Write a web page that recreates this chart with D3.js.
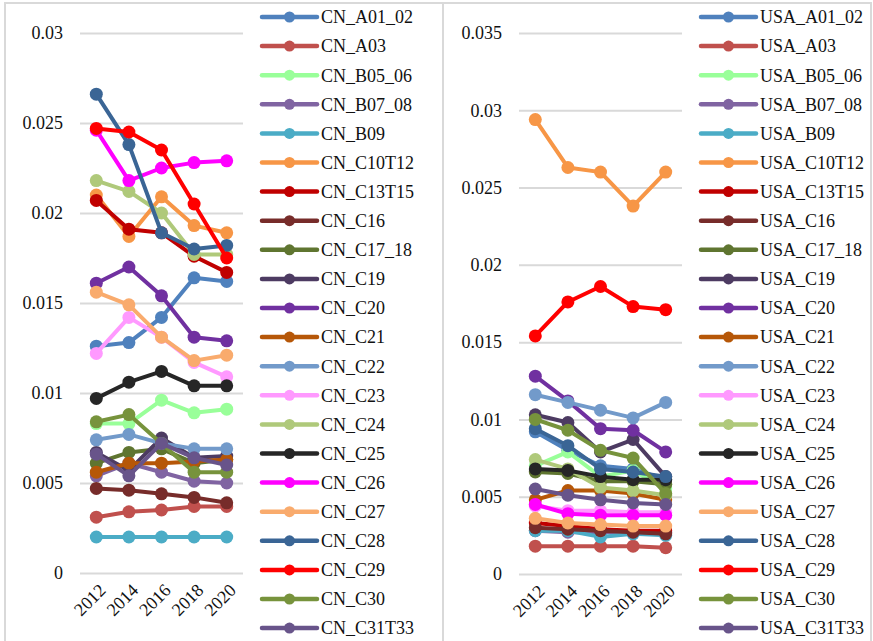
<!DOCTYPE html>
<html>
<head>
<meta charset="utf-8">
<script src="https://cdn.jsdelivr.net/npm/d3@7"></script>
<style>
  body { margin: 0; background: #fff; }
</style>
</head>
<body>
<script>
var years = ["2012", "2014", "2016", "2018", "2020"];

var sectors = ["A01_02", "A03", "B05_06", "B07_08", "B09", "C10T12", "C13T15", "C16",
  "C17_18", "C19", "C20", "C21", "C22", "C23", "C24", "C25", "C26", "C27", "C28",
  "C29", "C30", "C31T33"];

var colors = ["#4f81bd", "#c0504d", "#99ff99", "#8064a2", "#4bacc6", "#f79646", "#c00000",
  "#772c2a", "#5f7530", "#4d3b62", "#7030a0", "#b65708", "#729aca", "#ff99ff", "#afc97a",
  "#262626", "#ff00ff", "#f9ab6d", "#3a6595", "#ff0000", "#77933c", "#68548a"];

// one row per sector, same order as sectors
var cnValues = [
  [0.0126, 0.0128, 0.0142, 0.0164, 0.0162],
  [0.0031, 0.0034, 0.0035, 0.0037, 0.0037],
  [0.0083, 0.0083, 0.0096, 0.0089, 0.0091],
  [0.0054, 0.0061, 0.0056, 0.0051, 0.0050],
  [0.0020, 0.0020, 0.0020, 0.0020, 0.0020],
  [0.0210, 0.0187, 0.0209, 0.0193, 0.0189],
  [0.0207, 0.0191, 0.0189, 0.0176, 0.0167],
  [0.0047, 0.0046, 0.0044, 0.0042, 0.0039],
  [0.0061, 0.0067, 0.0069, 0.0061, 0.0063],
  [0.0067, 0.0057, 0.0075, 0.0064, 0.0065],
  [0.0161, 0.0170, 0.0154, 0.0131, 0.0129],
  [0.0056, 0.0061, 0.0061, 0.0062, 0.0063],
  [0.0074, 0.0077, 0.0072, 0.0069, 0.0069],
  [0.0122, 0.0142, 0.0131, 0.0117, 0.0109],
  [0.0218, 0.0212, 0.0200, 0.0177, 0.0177],
  [0.0097, 0.0106, 0.0112, 0.0104, 0.0104],
  [0.0246, 0.0218, 0.0225, 0.0228, 0.0229],
  [0.0156, 0.0149, 0.0131, 0.0118, 0.0121],
  [0.0266, 0.0238, 0.0189, 0.0180, 0.0182],
  [0.0247, 0.0245, 0.0235, 0.0205, 0.0175],
  [0.0084, 0.0088, 0.0072, 0.0056, 0.0056],
  [0.0066, 0.0054, 0.0072, 0.0064, 0.0060]
];

var usaValues = [
  [0.0092, 0.0080, 0.0070, 0.0068, 0.0061],
  [0.0018, 0.0018, 0.0018, 0.0018, 0.0017],
  [0.0070, 0.0079, 0.0063, 0.0067, 0.0055],
  [0.0028, 0.0027, 0.0027, 0.0027, 0.0027],
  [0.0028, 0.0028, 0.0024, 0.0026, 0.0025],
  [0.0294, 0.0263, 0.0260, 0.0238, 0.0260],
  [0.0033, 0.0031, 0.0029, 0.0028, 0.0028],
  [0.0030, 0.0029, 0.0028, 0.0027, 0.0026],
  [0.0066, 0.0065, 0.0060, 0.0060, 0.0058],
  [0.0103, 0.0098, 0.0079, 0.0087, 0.0063],
  [0.0128, 0.0112, 0.0094, 0.0093, 0.0079],
  [0.0048, 0.0054, 0.0054, 0.0052, 0.0048],
  [0.0116, 0.0111, 0.0106, 0.0101, 0.0111],
  [0.0044, 0.0041, 0.0041, 0.0040, 0.0040],
  [0.0074, 0.0068, 0.0056, 0.0054, 0.0051],
  [0.0068, 0.0067, 0.0063, 0.0061, 0.0061],
  [0.0045, 0.0039, 0.0038, 0.0038, 0.0038],
  [0.0036, 0.0033, 0.0032, 0.0031, 0.0031],
  [0.0094, 0.0083, 0.0068, 0.0066, 0.0063],
  [0.0154, 0.0176, 0.0186, 0.0173, 0.0171],
  [0.0100, 0.0093, 0.0080, 0.0075, 0.0052],
  [0.0055, 0.0051, 0.0048, 0.0046, 0.0045]
];

var cnTicks = [0, 0.005, 0.01, 0.015, 0.02, 0.025, 0.03];
var usaTicks = [0, 0.005, 0.01, 0.015, 0.02, 0.025, 0.03, 0.035];

var serif = "'Liberation Serif', serif";

var svg = d3.select("body").append("svg")
  .attr("width", 873)
  .attr("height", 641)
  .style("font-family", serif);

function drawPanel(opt) {
  var g = svg.append("g");

  g.append("rect")
    .attr("x", opt.left).attr("y", 3)
    .attr("width", opt.w).attr("height", 660)
    .attr("fill", "none")
    .attr("stroke", "#d9d9d9")
    .attr("stroke-width", 2);

  var x = d3.scaleBand().domain(years).range([opt.x0, opt.x1]);
  var y = d3.scaleLinear().domain([0, opt.max]).range([opt.y0, 33]);

  var yAxis = d3.axisLeft(y)
    .tickValues(opt.ticks)
    .tickFormat(function(d) { return d === 0 ? "0" : String(+d.toFixed(3)); })
    .tickSize(-(opt.x1 - opt.x0))
    .tickPadding(17);

  var ag = g.append("g")
    .attr("transform", "translate(" + opt.x0 + ",0)")
    .call(yAxis)
    .attr("font-family", null);
  ag.select(".domain").remove();
  ag.selectAll(".tick line").attr("stroke", "#d9d9d9").attr("stroke-width", 2);
  ag.selectAll(".tick text")
    .attr("fill", "#111")
    .style("font-family", serif)
    .style("font-size", "18px");

  // rotated year labels
  g.selectAll(".yr").data(years).enter().append("text")
    .attr("class", "yr")
    .style("font-family", serif)
    .style("font-size", "18px")
    .attr("fill", "#111")
    .attr("text-anchor", "end")
    .attr("transform", function(d) {
      return "translate(" + (x(d) + x.bandwidth() / 2 + 6) + "," + (opt.y0 + 14) + ") rotate(-45)";
    })
    .attr("dy", "0.35em")
    .text(function(d) { return d; });

  var line = d3.line()
    .x(function(d, i) { return x(years[i]) + x.bandwidth() / 2; })
    .y(function(d) { return y(d); });

  opt.values.forEach(function(vals, k) {
    var s = g.append("g");
    s.append("path")
      .datum(vals)
      .attr("d", line)
      .attr("fill", "none")
      .attr("stroke", colors[k])
      .attr("stroke-width", 4)
      .attr("stroke-linejoin", "round");
    s.selectAll("circle").data(vals).enter().append("circle")
      .attr("cx", function(d, i) { return x(years[i]) + x.bandwidth() / 2; })
      .attr("cy", function(d) { return y(d); })
      .attr("r", 6.5)
      .attr("fill", colors[k]);
  });

  // legend
  var lg = g.append("g");
  var rows = lg.selectAll("g").data(sectors).enter().append("g")
    .attr("transform", function(d, i) { return "translate(0," + (17 + i * 29.1) + ")"; });
  rows.append("line")
    .attr("x1", opt.legX).attr("x2", opt.legX + 55)
    .attr("stroke", function(d, i) { return colors[i]; })
    .attr("stroke-width", 4.5)
    .attr("stroke-linecap", "round");
  rows.append("circle")
    .attr("cx", opt.legX + 27.5)
    .attr("r", 5.5)
    .attr("fill", function(d, i) { return colors[i]; });
  rows.append("text")
    .attr("x", opt.legX + 59)
    .attr("dy", "0.35em")
    .attr("fill", "#111")
    .style("font-family", serif)
    .style("font-size", "18px")
    .text(function(d) { return opt.prefix + d; });
}

drawPanel({ left: 5, w: 438, x0: 80, x1: 243, y0: 573, max: 0.03, ticks: cnTicks,
  values: cnValues, legX: 262, prefix: "CN_" });
drawPanel({ left: 443, w: 428, x0: 519, x1: 682, y0: 574, max: 0.035, ticks: usaTicks,
  values: usaValues, legX: 701, prefix: "USA_" });
</script>
</body>
</html>
